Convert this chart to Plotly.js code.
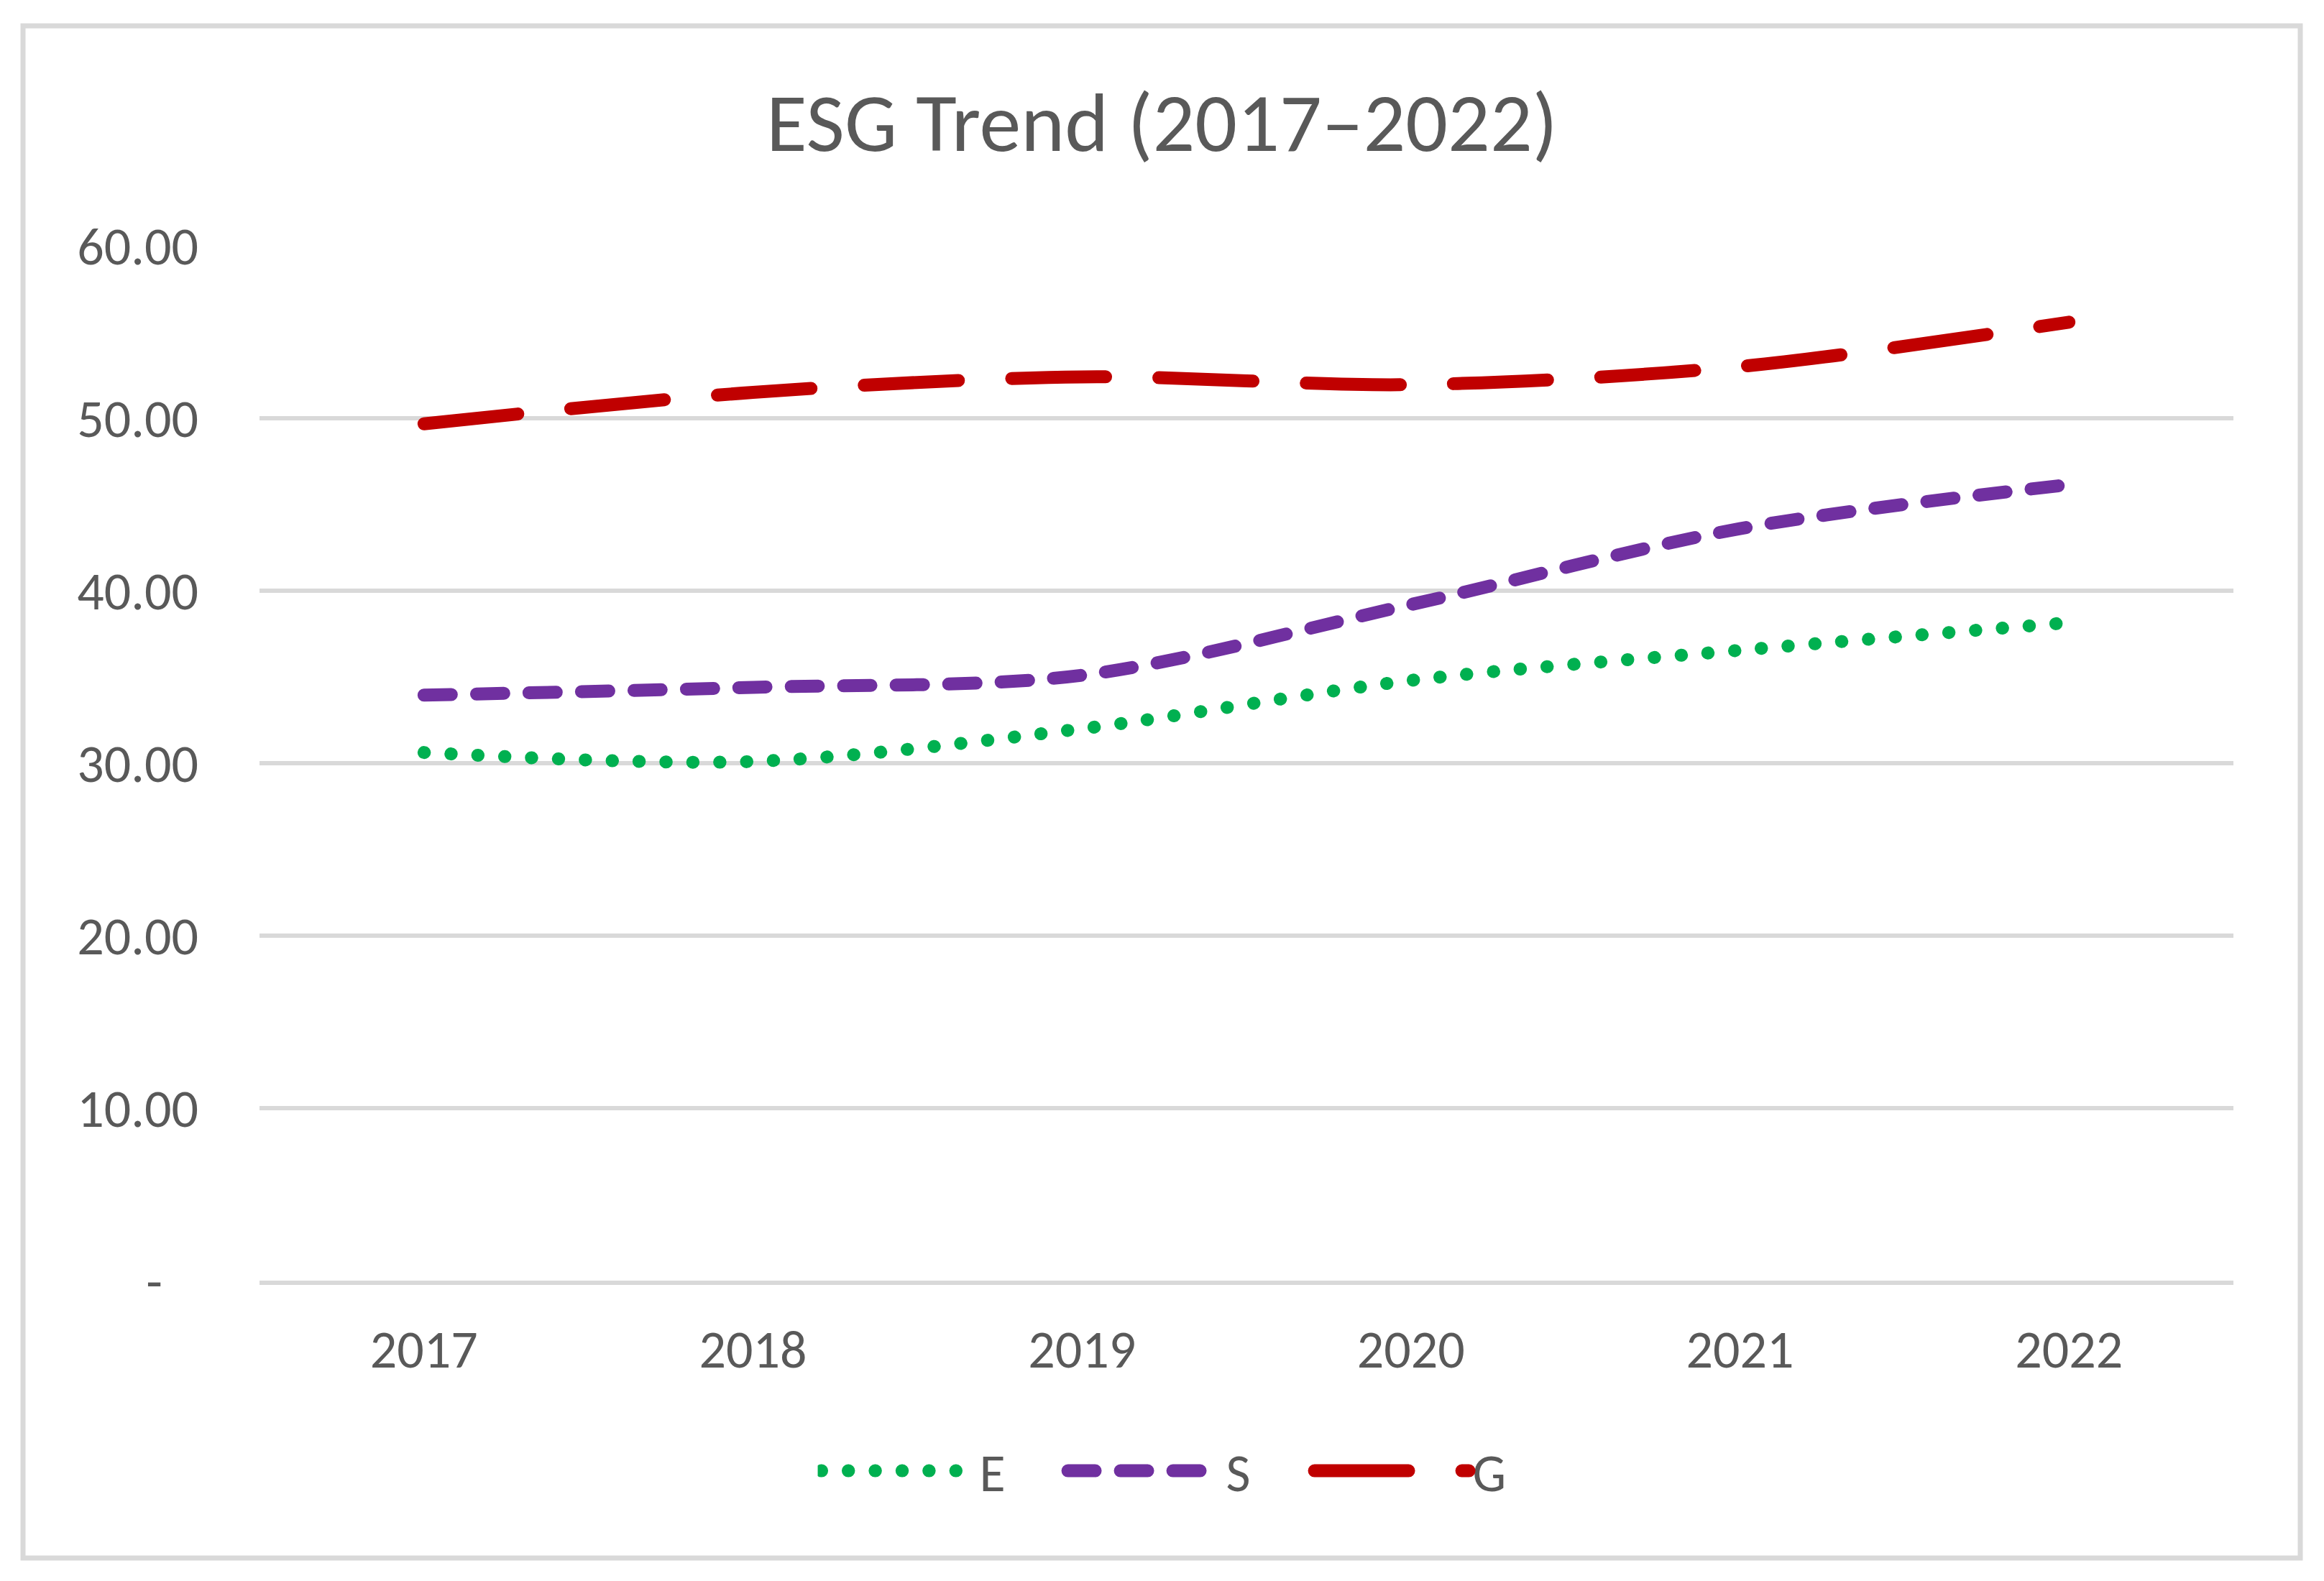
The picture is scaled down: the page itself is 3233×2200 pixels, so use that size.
<!DOCTYPE html>
<html>
<head>
<meta charset="utf-8">
<script src="https://cdn.plot.ly/plotly-3.0.1.min.js"></script>
<style>
  html, body { margin: 0; padding: 0; background: #ffffff; }
  #chart { width: 3233px; height: 2200px; }
</style>
</head>
<body>
<div id="chart"></div>
<script>
// ---- data ----
const years = ['2017', '2018', '2019', '2020', '2021', '2022'];
const eValues = [30.62, 30.10, 32.00, 34.80, 36.55, 38.15];
const sValues = [33.95, 34.40, 35.10, 39.20, 43.60, 46.15];
const gValues = [49.68, 51.50, 52.40, 51.95, 53.00, 55.57];
const seriesNames = ['E', 'S', 'G'];
const yTickVals = [0, 10, 20, 30, 40, 50, 60];
const yTickText = ['-\u00a0\u00a0\u00a0', '10.00', '20.00', '30.00', '40.00', '50.00', '60.00'];
const titleText = 'ESG Trend (2017\u20132022)';

const FONT = 'Carlito, Calibri, Lato, sans-serif';
const TEXT = '#595959';
const GRID = '#d9d9d9';
const LW = 18;

function mk(name, y, color, dash) {
  return {
    type: 'scatter', mode: 'lines', name: name,
    x: years, y: y,
    line: { color: color, width: LW, dash: dash, shape: 'spline', smoothing: 0.9 },
    hoverinfo: 'skip'
  };
}

const traces = [
  mk(seriesNames[0], eValues, '#00b050', '0.5px,36.9px'),
  mk(seriesNames[1], sValues, '#7030a0', '38px,35px'),
  mk(seriesNames[2], gValues, '#c00000', '131px,74px')
];

const layout = {
  width: 3233, height: 2200,
  paper_bgcolor: '#ffffff', plot_bgcolor: '#ffffff',
  margin: { l: 361, r: 126, t: 342, b: 418, pad: 0 },
  font: { family: FONT, color: TEXT, size: 74 },
  title: {
    text: titleText,
    font: { family: FONT, size: 116, color: TEXT },
    x: 0.5, xref: 'container', xanchor: 'center',
    y: 1 - 169 / 2200, yref: 'container', yanchor: 'middle'
  },
  xaxis: {
    type: 'category',
    range: [-0.5, 5.5],
    showgrid: false, zeroline: false,
    showline: true, linecolor: GRID, linewidth: 6,
    ticks: '',
    tickfont: { family: FONT, size: 74, color: TEXT },
    ticklabelstandoff: 26,
    fixedrange: true
  },
  yaxis: {
    range: [0, 60],
    tickvals: yTickVals, ticktext: yTickText,
    showgrid: true, gridcolor: GRID, gridwidth: 6,
    zeroline: false, showline: false,
    ticks: '',
    tickfont: { family: FONT, size: 74, color: TEXT },
    ticklabelstandoff: 84,
    fixedrange: true
  },
  showlegend: true,
  legend: {
    orientation: 'h',
    x: 0.511, xref: 'container', xanchor: 'center',
    y: 1 - 2047 / 2200, yref: 'container', yanchor: 'middle',
    font: { family: FONT, size: 74, color: TEXT },
    itemwidth: 215,
    entrywidth: 113, entrywidthmode: 'pixels',
    bgcolor: 'rgba(0,0,0,0)',
    traceorder: 'normal'
  },
  shapes: [{
    type: 'rect', xref: 'paper', yref: 'paper',
    x0: (32 - 361) / 2746, x1: (3200 - 361) / 2746,
    y0: (1782 - 2168) / 1440, y1: (1782 - 36) / 1440,
    line: { color: GRID, width: 7 }, fillcolor: 'rgba(0,0,0,0)', layer: 'below'
  }]
};

Plotly.newPlot('chart', traces, layout, { staticPlot: true, displayModeBar: false }).then(function (gd) {
  gd.querySelectorAll('.scatterlayer .js-line').forEach(function (p) {
    p.style.strokeLinecap = 'round';
  });
  gd.querySelectorAll('.legend .js-line, .legend .legendlines path').forEach(function (p) {
    p.style.strokeLinecap = 'round';
    p.style.strokeWidth = LW + 'px';
  });
});
</script>
</body>
</html>
